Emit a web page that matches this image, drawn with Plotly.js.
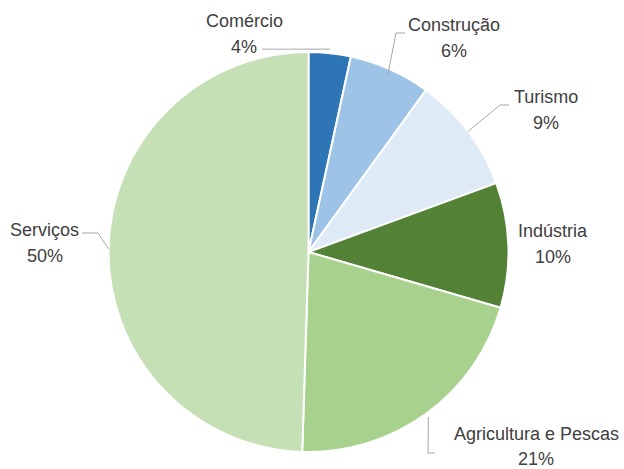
<!DOCTYPE html>
<html><head><meta charset="utf-8">
<script src="https://cdn.plot.ly/plotly-3.0.1.min.js"></script>
<style>html,body{margin:0;padding:0;background:#fff}</style>
</head><body>
<div id="chart" style="width:624px;height:469px"></div>
<script>
const categories = ["Comércio", "Construção", "Turismo", "Indústria", "Agricultura e Pescas", "Serviços"];
const values = [3.4, 6.6, 9.4, 10.1, 21.0, 49.5];
const pctLabels = ["4%", "6%", "9%", "10%", "21%", "50%"];
const colors = ["#2E75B6", "#9DC3E6", "#DEEBF7", "#538135", "#A9D18E", "#C5E0B4"];

const W = 624, H = 469;
const cx = 308.5, cy = 252, R = 200;
const px = x => x / W, py = y => 1 - y / H;

// label centre x, name line y, percent line y (pixel layout)
const labelPos = [[244, 21, 47], [454, 25, 51], [546, 97, 123], [553, 231, 257], [536, 434, 459], [45, 230, 256]];
const leaders = [
  {r: 1.02, pts: [[262, null]]},
  {r: 0.97, pts: [[396, 33], [405, 33]]},
  {r: 1.0, pts: [[500, 105], [509, 105]]},
  null,
  {r: 1.02, pts: [[428, 453], [435, 453]]},
  {r: 1.0, pts: [[98, 233], [82, 233]]}
];
const font = {family: '"Liberation Sans Narrow", "Arial Narrow", "Liberation Sans", Arial, sans-serif', size: 18, color: '#404040'};

const total = values.reduce((a, b) => a + b, 0);
let cum = 0;
const shapes = [], annotations = [];
values.forEach((v, i) => {
  const mid = (cum + v / 2) / total;
  cum += v;
  const L = leaders[i];
  if (L) {
    const a = 2 * Math.PI * mid;
    const sx = cx + R * L.r * Math.sin(a), sy = cy - R * L.r * Math.cos(a);
    let d = `M${px(sx)},${py(sy)}`;
    L.pts.forEach(p => {
      const yy = p[1] === null ? sy : p[1];
      d += ` L${px(p[0])},${py(yy)}`;
    });
    shapes.push({type: 'path', xref: 'paper', yref: 'paper', path: d,
      line: {color: '#A6A6A6', width: 1}});
  }
  const [lx, ly1, ly2] = labelPos[i];
  [[categories[i], ly1], [pctLabels[i], ly2]].forEach(([t, ly]) => {
    annotations.push({
      xref: 'paper', yref: 'paper', x: px(lx), y: py(ly),
      xanchor: 'center', yanchor: 'middle', showarrow: false, align: 'center',
      text: t, font: font
    });
  });
});

const data = [{
  type: 'pie',
  labels: categories,
  values: values,
  sort: false,
  direction: 'clockwise',
  rotation: 0,
  textinfo: 'none',
  hoverinfo: 'label+percent',
  marker: {colors: colors, line: {color: '#FFFFFF', width: 2}},
  domain: {x: [px(cx - R), px(cx + R)], y: [py(cy + R), py(cy - R)]},
  showlegend: false
}];

const layout = {
  width: W, height: H,
  margin: {l: 0, r: 0, t: 0, b: 0},
  paper_bgcolor: '#FFFFFF',
  showlegend: false,
  shapes: shapes,
  annotations: annotations
};

Plotly.newPlot('chart', data, layout, {displayModeBar: false, staticPlot: true});
</script>
</body></html>
